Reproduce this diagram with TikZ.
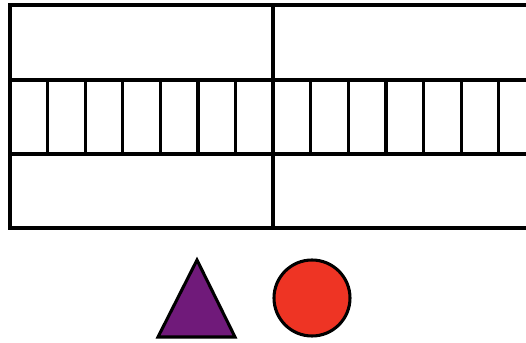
\documentclass[tikz,border=0pt]{standalone}
\usepackage{tikz}
\usetikzlibrary{calc}
\definecolor{shapepurple}{HTML}{701A7A}
\definecolor{shapered}{HTML}{EE3424}

\begin{document}
\begin{tikzpicture}[x=0.75pt, y=-0.75pt, line join=miter, line width=2.3pt]
	
	% --- 1. 画布与裁剪 ---
	\useasboundingbox (0,0) rectangle (526,343);
	\clip (0,0) rectangle (526,343);
	
	% --- 2. 网格的核心坐标 ---
	\coordinate (TL) at (10,5);
	\coordinate (BR) at (536,228);
	\coordinate (M1) at (10,80);
	\coordinate (M2) at (10,154);
	
	% 外框 (右边超出画面)
	\draw (TL) rectangle (BR);
	
	% 中间的横带
	\draw (M1) -- (M1 -| BR);
	\draw (M2) -- (M2 -| BR);
	
	% 中间的长竖线
	\draw (273,5) -- (273,228);
	
	% 横带里的短竖线
	\foreach \i in {1,...,13}{
		\draw ($(M1)+(\i*37.6,0)$) -- ($(M2)+(\i*37.6,0)$);
	}
	
	% --- 3. 下方的两个图形 ---
	\coordinate (T1) at (197,260);
	\coordinate (T2) at (158,337);
	\coordinate (T3) at (235,337);
	\filldraw[fill=shapepurple] (T1) -- (T2) -- (T3) -- cycle;
	
	\coordinate (O) at (312,298);
	\filldraw[fill=shapered] (O) circle (38);
	
\end{tikzpicture}
\end{document}
